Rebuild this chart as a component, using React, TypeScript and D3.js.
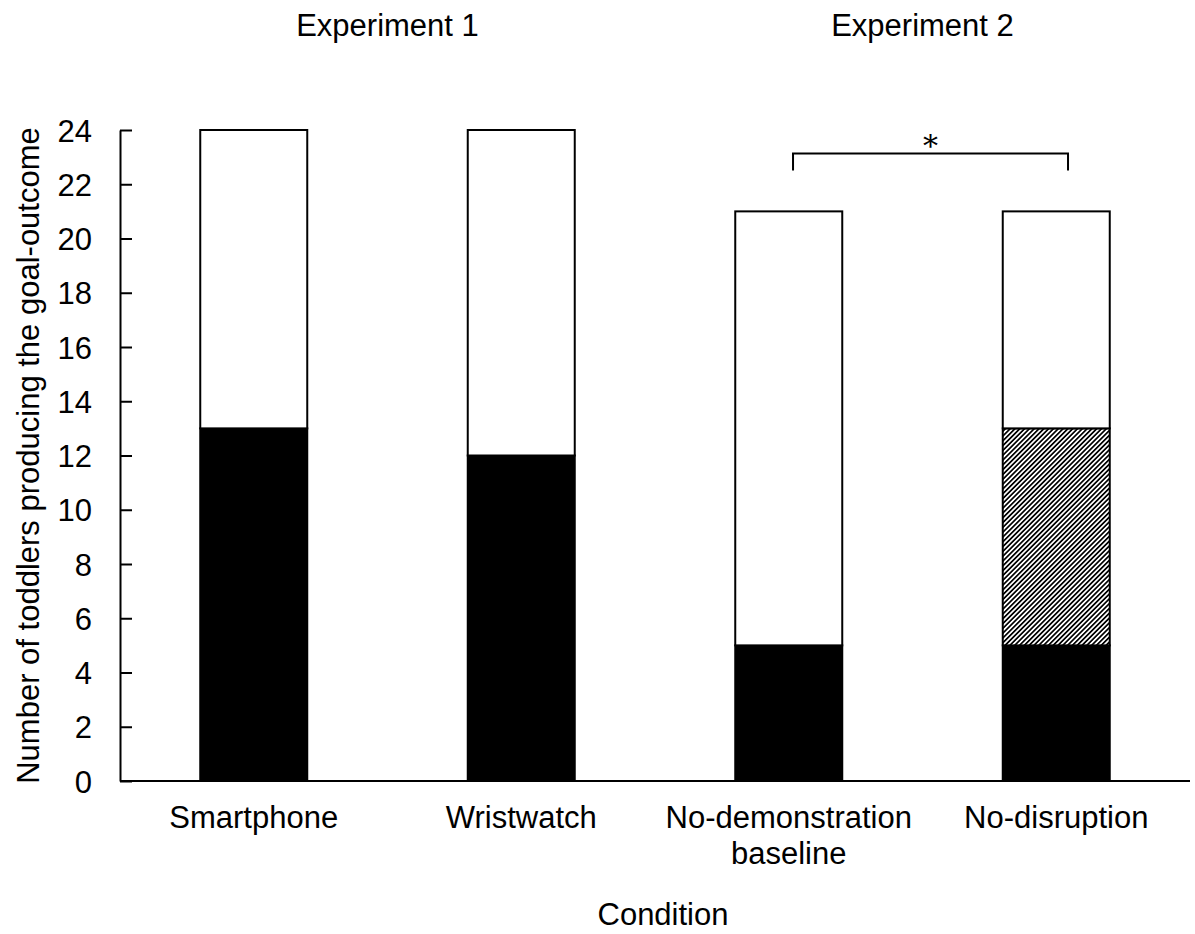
import React, { useEffect, useRef } from "react";
import * as d3 from "d3";

const categories = ["Smartphone", "Wristwatch", "No-demonstration\nbaseline", "No-disruption"];
const blackCounts = [13, 12, 5, 5];
const hatchedCounts = [0, 0, 0, 8];
const whiteCounts = [11, 12, 16, 8];
const yTicks = [0, 2, 4, 6, 8, 10, 12, 14, 16, 18, 20, 22, 24];
const experiments = [
  { label: "Experiment 1", members: ["Smartphone", "Wristwatch"] },
  { label: "Experiment 2", members: ["No-demonstration\nbaseline", "No-disruption"] },
];
const bracketFrom = "No-demonstration\nbaseline";
const bracketTo = "No-disruption";
const bracketLevel = 23.13;
const bracketDrop = 0.62;

const FONT = "'Liberation Sans', Arial, sans-serif";

const App = () => {
  const ref = useRef<SVGSVGElement>(null);

  useEffect(() => {
    const width = 1195;
    const height = 934;
    const left = 120;
    const right = 1190;
    const top = 130;
    const bottom = 781;

    const svg = d3.select(ref.current).attr("width", width).attr("height", height);
    svg.selectAll("*").remove();

    // hatch pattern for the last segment
    const defs = svg.append("defs");
    const pat = defs
      .append("pattern")
      .attr("id", "hatch")
      .attr("patternUnits", "userSpaceOnUse")
      .attr("width", 3.4)
      .attr("height", 3.4)
      .attr("patternTransform", "rotate(45)");
    pat.append("rect").attr("width", 3.4).attr("height", 3.4).attr("fill", "#fff");
    pat.append("line").attr("x1", 0.85).attr("x2", 0.85).attr("y1", 0).attr("y2", 3.4)
      .attr("stroke", "#000").attr("stroke-width", 1.7);

    const x = d3.scaleBand().domain(categories).range([left, right]).paddingInner(0.6).paddingOuter(0.3);
    const y = d3.scaleLinear().domain([0, 24]).range([bottom, top]);

    const rows = categories.map((c, i) => ({
      cat: c,
      black: blackCounts[i],
      hatched: hatchedCounts[i],
      white: whiteCounts[i],
    }));
    const keys = ["black", "hatched", "white"];
    const fills: Record<string, string> = { black: "#000", hatched: "url(#hatch)", white: "#fff" };
    const stacked = d3.stack<any>().keys(keys)(rows);

    const g = svg.append("g");
    stacked.forEach((layer) => {
      g.selectAll(null)
        .data(layer.filter((d) => d[1] > d[0]))
        .enter()
        .append("rect")
        .attr("x", (d: any) => x(d.data.cat)!)
        .attr("width", x.bandwidth())
        .attr("y", (d) => y(d[1]))
        .attr("height", (d) => y(d[0]) - y(d[1]))
        .attr("fill", fills[layer.key])
        .attr("stroke", "#000")
        .attr("stroke-width", 2);
    });

    // y axis with inward ticks
    const yAxis = svg
      .append("g")
      .attr("transform", `translate(${left},0)`)
      .call(d3.axisLeft(y).tickValues(yTicks).tickSizeInner(-12).tickSizeOuter(0).tickPadding(28));
    yAxis.select(".domain").attr("stroke", "#000").attr("stroke-width", 2);
    yAxis.selectAll(".tick line").attr("stroke", "#000").attr("stroke-width", 2);
    yAxis.selectAll(".tick text")
      .attr("font-family", FONT)
      .attr("font-size", 31)
      .attr("fill", "#000")
      .attr("dy", "0.36em");

    // x axis baseline
    svg.append("line")
      .attr("x1", left).attr("x2", right)
      .attr("y1", y(0)).attr("y2", y(0))
      .attr("stroke", "#000").attr("stroke-width", 2);

    // category labels
    categories.forEach((c) => {
      const t = svg.append("text")
        .attr("x", x(c)! + x.bandwidth() / 2)
        .attr("y", 828)
        .attr("text-anchor", "middle")
        .attr("font-family", FONT)
        .attr("font-size", 31);
      c.split("\n").forEach((line, i) => {
        t.append("tspan").attr("x", x(c)! + x.bandwidth() / 2).attr("dy", i === 0 ? 0 : 36).text(line);
      });
    });

    // experiment titles
    experiments.forEach((e) => {
      const cx = d3.mean(e.members, (m) => x(m)! + x.bandwidth() / 2)!;
      svg.append("text")
        .attr("x", cx)
        .attr("y", 36)
        .attr("text-anchor", "middle")
        .attr("font-family", FONT)
        .attr("font-size", 31)
        .text(e.label);
    });

    // significance bracket
    const bx1 = x(bracketFrom)! + x.bandwidth() * 0.54;
    const bx2 = x(bracketTo)! + x.bandwidth() * 0.61;
    svg.append("path")
      .attr("d", `M${bx1},${y(bracketLevel - bracketDrop)}V${y(bracketLevel)}H${bx2}V${y(bracketLevel - bracketDrop)}`)
      .attr("fill", "none")
      .attr("stroke", "#000")
      .attr("stroke-width", 2);
    svg.append("text")
      .attr("x", (bx1 + bx2) / 2)
      .attr("y", 156)
      .attr("text-anchor", "middle")
      .attr("font-family", "'DejaVu Serif', serif")
      .attr("font-size", 30)
      .text("*");

    // axis titles
    svg.append("text")
      .attr("transform", `translate(39,${(top + bottom) / 2}) rotate(-90)`)
      .attr("text-anchor", "middle")
      .attr("font-family", FONT)
      .attr("font-size", 31)
      .text("Number of toddlers producing the goal-outcome");
    svg.append("text")
      .attr("x", 663)
      .attr("y", 925)
      .attr("text-anchor", "middle")
      .attr("font-family", FONT)
      .attr("font-size", 31)
      .text("Condition");
  }, []);

  return <svg ref={ref} style={{ position: "absolute", left: 0, top: 0, background: "#fff" }} />;
};

export default App;
